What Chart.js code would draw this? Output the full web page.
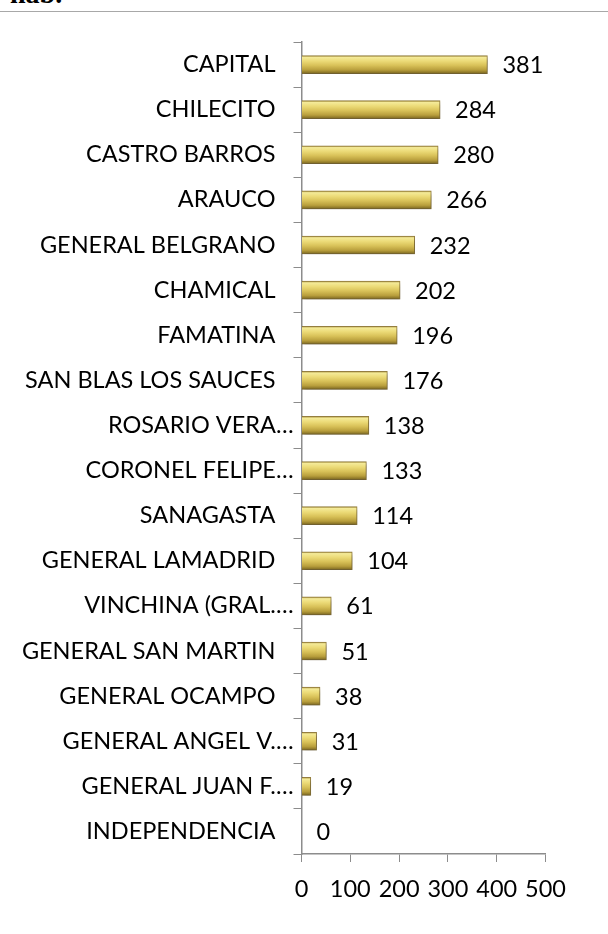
<!DOCTYPE html>
<html>
<head>
<meta charset="utf-8">
<script src="https://cdn.jsdelivr.net/npm/chart.js@4"></script>
<style>
  html, body { margin: 0; padding: 0; background: #fff; }
  body { width: 608px; height: 934px; position: relative; overflow: hidden; }
  #title { position: absolute; left: 10px; top: -22px; font: bold 28px "Liberation Serif", serif; color: #000; }
  #rule { position: absolute; left: 0; top: 11px; width: 608px; height: 0; border-top: 1.5px solid #a8a8a8; }
  #wrap { position: absolute; left: 0; top: 0; width: 608px; height: 934px; }
</style>
</head>
<body>
<div id="title">hab.</div>
<div id="rule"></div>
<div id="wrap"><canvas id="barChart" width="608" height="934"></canvas></div>
<script>
  // departamentos y valores
  const departamentos = [
    'CAPITAL', 'CHILECITO', 'CASTRO BARROS', 'ARAUCO', 'GENERAL BELGRANO',
    'CHAMICAL', 'FAMATINA', 'SAN BLAS LOS SAUCES', 'ROSARIO VERA…', 'CORONEL FELIPE…',
    'SANAGASTA', 'GENERAL LAMADRID', 'VINCHINA (GRAL.…', 'GENERAL SAN MARTIN',
    'GENERAL OCAMPO', 'GENERAL ANGEL V.…', 'GENERAL JUAN F.…', 'INDEPENDENCIA'
  ];
  const valores = [381, 284, 280, 266, 232, 202, 196, 176, 138, 133, 114, 104, 61, 51, 38, 31, 19, 0];
  const ejeMin = 0;
  const ejeMax = 500;
  const ejePaso = 100;

  const fuente = { family: 'Lato', size: 23.5 };
  const gris = '#8c8c8c';

  // degradado dorado de cada barra
  function dorado(ctx) {
    const chart = ctx.chart;
    if (!chart.chartArea || !chart.scales.y) return '#dcc35a';
    const y = chart.scales.y.getPixelForValue(ctx.dataIndex);
    const g = chart.ctx.createLinearGradient(0, y - 9, 0, y + 9);
    g.addColorStop(0, '#a89038');
    g.addColorStop(0.1, '#f4ea98');
    g.addColorStop(0.3, '#ecdb78');
    g.addColorStop(0.55, '#d8c158');
    g.addColorStop(0.8, '#b89e3c');
    g.addColorStop(1, '#7a6620');
    return g;
  }

  // sombra de barras + etiquetas de valor
  const etiquetas = {
    id: 'etiquetas',
    beforeDatasetsDraw(chart) {
      const c = chart.ctx;
      c.save();
      c.shadowColor = 'rgba(0,0,0,0.28)';
      c.shadowBlur = 4;
      c.shadowOffsetY = 3;
      c.shadowOffsetX = 1;
    },
    afterDatasetsDraw(chart) {
      const c = chart.ctx;
      c.restore();
      const meta = chart.getDatasetMeta(0);
      c.save();
      c.font = fuente.size + 'px ' + fuente.family;
      c.fillStyle = '#000';
      c.textAlign = 'left';
      c.textBaseline = 'middle';
      meta.data.forEach((bar, i) => {
        c.fillText(String(valores[i]), bar.x + 15, bar.y + 1);
      });
      c.restore();
    }
  };

  const bar = document.getElementById('barChart').getContext('2d');
  const barChart = new Chart(bar, {
    type: 'bar',
    data: {
      labels: departamentos,
      datasets: [{
        data: valores,
        backgroundColor: dorado,
        borderColor: 'rgba(130,105,30,0.85)',
        borderWidth: 1,
        borderSkipped: 'start',
        barThickness: 18
      }]
    },
    options: {
      indexAxis: 'y',
      responsive: false,
      animation: false,
      layout: { padding: { top: 42, right: 62.5, bottom: 0, left: 0 } },
      plugins: {
        legend: { display: false },
        tooltip: { enabled: false }
      },
      scales: {
        y: {
          afterFit(scale) { scale.width = 301.5; },
          grid: { drawOnChartArea: false, offset: true, tickLength: 8, color: gris },
          border: { color: gris, width: 1.5 },
          ticks: {
            color: '#000',
            font: fuente,
            padding: 0,
            autoSkip: false,
            // las etiquetas completas quedan algo más a la izquierda
            callback: function (v, i) {
              const t = this.getLabelForValue(v);
              return t.endsWith('…') ? t : t + '   ';
            }
          }
        },
        x: {
          min: ejeMin,
          max: ejeMax,
          afterFit(scale) { scale.height = 80; },
          grid: { drawOnChartArea: false, tickLength: 8, color: gris },
          border: { color: gris, width: 1.5 },
          ticks: { stepSize: ejePaso, color: '#000', font: fuente, padding: 13, maxRotation: 0 }
        }
      }
    },
    plugins: [etiquetas]
  });
</script>
</body>
</html>
